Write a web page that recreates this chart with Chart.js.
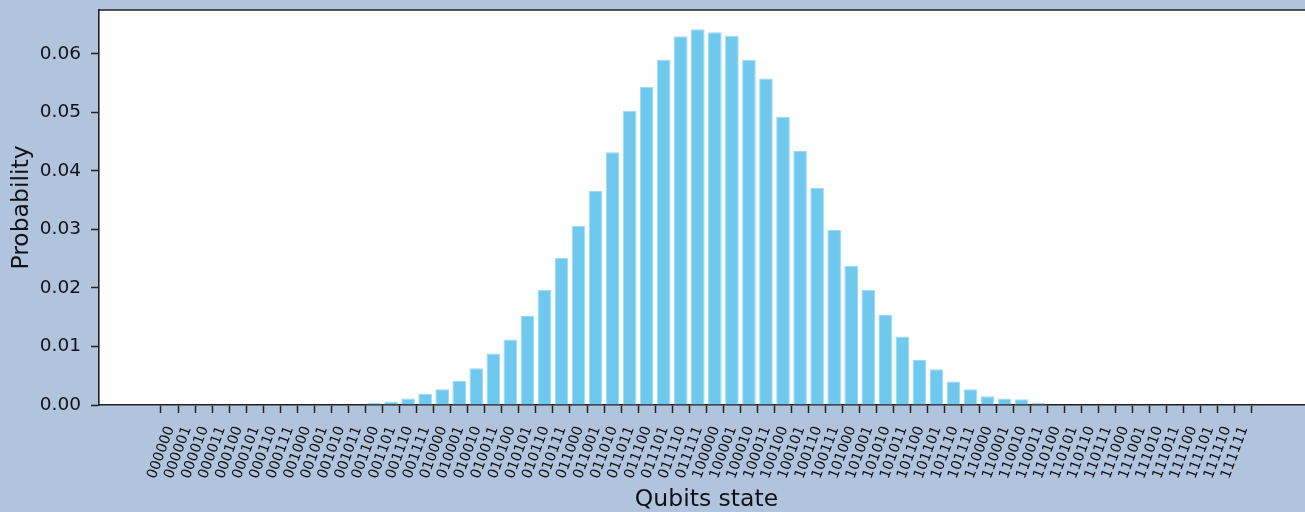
<!DOCTYPE html>
<html>
<head>
<meta charset="utf-8">
<script src="https://cdn.jsdelivr.net/npm/chart.js@4.4.1/dist/chart.umd.min.js"></script>
<style>
  html, body { margin: 0; padding: 0; background: #B0C4DE; overflow: hidden; }
  #wrap { position: absolute; left: 0; top: 0; width: 1330px; height: 512px; }
</style>
</head>
<body>
<div id="wrap"><canvas id="chart" width="1330" height="512"></canvas></div>
<script>
// Basis states of the 6-qubit register
const states = [
  '000000','000001','000010','000011','000100','000101','000110','000111',
  '001000','001001','001010','001011','001100','001101','001110','001111',
  '010000','010001','010010','010011','010100','010101','010110','010111',
  '011000','011001','011010','011011','011100','011101','011110','011111',
  '100000','100001','100010','100011','100100','100101','100110','100111',
  '101000','101001','101010','101011','101100','101101','101110','101111',
  '110000','110001','110010','110011','110100','110101','110110','110111',
  '111000','111001','111010','111011','111100','111101','111110','111111'
];

// Measured probability of each state
const probabilities = [
  0, 0, 0, 0, 0, 0, 0, 0,
  0, 0, 0, 0, 0.0004, 0.0006, 0.0011, 0.0019,
  0.0027, 0.0041, 0.0063, 0.0088, 0.0112, 0.0152, 0.0197, 0.0251,
  0.0306, 0.0366, 0.0432, 0.0503, 0.0544, 0.0590, 0.0630, 0.0642,
  0.0637, 0.0631, 0.0590, 0.0558, 0.0492, 0.0434, 0.0371, 0.0299,
  0.0238, 0.0197, 0.0154, 0.0117, 0.0077, 0.0061, 0.0040, 0.0027,
  0.0015, 0.0011, 0.0010, 0.0004, 0, 0, 0, 0,
  0, 0, 0, 0, 0, 0, 0, 0
];

// Y axis tick values
const yTicks = [0, 0.01, 0.02, 0.03, 0.04, 0.05, 0.06];

const textColor = '#111111';
const axisColor = '#222222';
const fontFamily = '"DejaVu Sans", sans-serif';

// Closes the frame along the top of the plotting area
const framePlugin = {
  id: 'frame',
  afterDraw(chart) {
    const { ctx, chartArea } = chart;
    ctx.save();
    ctx.strokeStyle = axisColor;
    ctx.lineWidth = 1.6;
    ctx.beginPath();
    ctx.moveTo(chartArea.left, chartArea.top);
    ctx.lineTo(chartArea.right, chartArea.top);
    ctx.lineTo(chartArea.right, chartArea.bottom);
    ctx.stroke();
    ctx.restore();
  }
};

const bgPlugin = {
  id: 'plotBg',
  beforeDraw(chart) {
    const { ctx, chartArea } = chart;
    ctx.save();
    ctx.fillStyle = '#B0C4DE';
    ctx.fillRect(0, 0, chart.width, chart.height);
    ctx.fillStyle = '#FFFFFF';
    ctx.fillRect(chartArea.left, chartArea.top, chartArea.right - chartArea.left, chartArea.bottom - chartArea.top);
    ctx.restore();
  }
};

new Chart(document.getElementById('chart'), {
  type: 'bar',
  data: {
    datasets: [{
      label: 'Probability',
      data: probabilities.map((p, i) => ({ x: i, y: p })),
      backgroundColor: '#6FC8EE',
      borderColor: '#9ED9F3',
      borderWidth: 1,
      barPercentage: 0.8,
      categoryPercentage: 1.0
    }]
  },
  options: {
    responsive: false,
    animation: false,
    devicePixelRatio: 1,
    layout: { padding: { left: 0, top: 10, right: 16, bottom: 0 } },
    plugins: {
      legend: { display: false },
      tooltip: { enabled: false }
    },
    scales: {
      x: {
        type: 'linear',
        min: -3.58,
        max: 66.6,
        afterBuildTicks(scale) {
          scale.ticks = states.map((_, i) => ({ value: i }));
        },
        afterFit(scale) {
          scale.height = 107;
          scale.paddingLeft = 0;
          scale.paddingRight = 0;
        },
        grid: {
          display: true,
          drawOnChartArea: false,
          drawTicks: true,
          tickLength: 8,
          tickColor: axisColor,
          tickWidth: 1.5
        },
        border: { display: true, color: axisColor, width: 1.6 },
        ticks: {
          autoSkip: false,
          minRotation: 70,
          maxRotation: 70,
          padding: 11,
          labelOffset: 1,
          color: textColor,
          font: { family: fontFamily, size: 14.3 },
          callback: (v) => states[v]
        },
        title: {
          display: true,
          text: 'Qubits state',
          color: textColor,
          font: { family: fontFamily, size: 23.5, lineHeight: 1 },
          padding: { top: 0, bottom: 0 }
        }
      },
      y: {
        type: 'linear',
        min: 0,
        max: 0.0675,
        afterBuildTicks(scale) {
          scale.ticks = yTicks.map(v => ({ value: v }));
        },
        afterFit(scale) {
          scale.width = 99;
          scale.paddingTop = 0;
          scale.paddingBottom = 0;
        },
        grid: {
          display: true,
          drawOnChartArea: false,
          drawTicks: true,
          tickLength: 8,
          tickColor: axisColor,
          tickWidth: 1.5
        },
        border: { display: true, color: axisColor, width: 1.6 },
        ticks: {
          padding: 10,
          color: textColor,
          font: { family: fontFamily, size: 18.5 },
          callback: (v) => v.toFixed(2)
        },
        title: {
          display: true,
          text: 'Probability',
          color: textColor,
          font: { family: fontFamily, size: 23.5, lineHeight: 1 },
          padding: { top: 10, bottom: 0 }
        }
      }
    }
  },
  plugins: [bgPlugin, framePlugin]
});
</script>
</body>
</html>
